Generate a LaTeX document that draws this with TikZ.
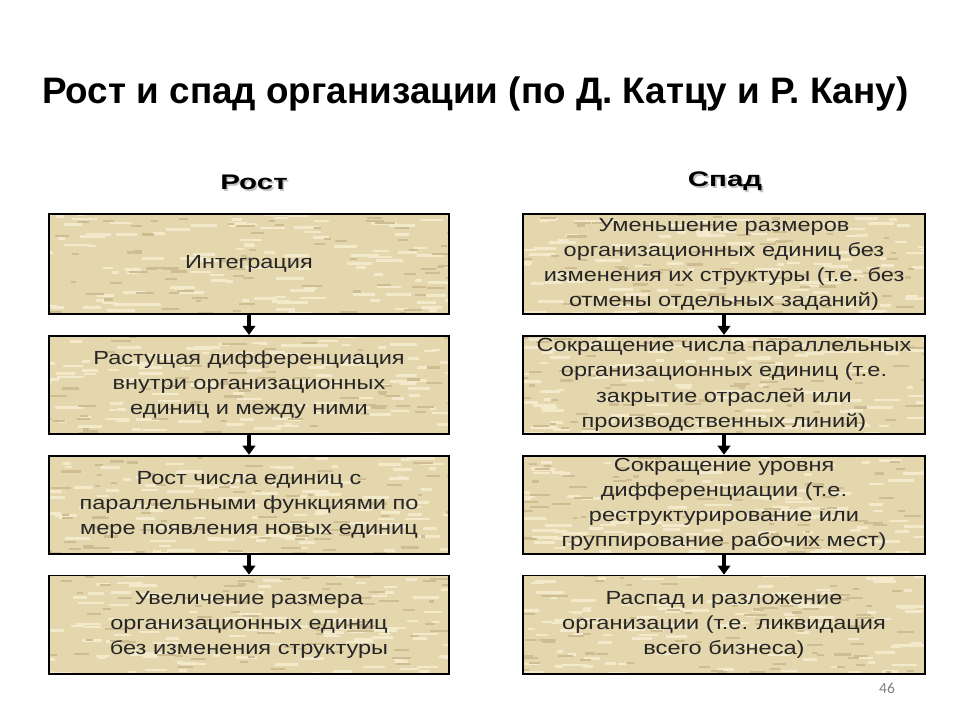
\documentclass[tikz,border=0pt]{standalone}
\usepackage{fontspec}
\setmainfont{Liberation Sans}
\newfontfamily\boxfont[FakeStretch=1.24]{Liberation Sans}
\newfontfamily\headfont[FakeStretch=1.4]{Liberation Sans}
\newfontfamily\numfont{Carlito}
\usetikzlibrary{positioning,arrows.meta}

\definecolor{papyrus}{RGB}{229,215,173}
\definecolor{papyruslight}{RGB}{243,234,203}
\definecolor{papyrusdark}{RGB}{206,189,146}

% тень под заголовками колонок
\newcommand{\shadowed}[1]{\makebox[0pt][l]{\kern1.2pt\raisebox{-1.2pt}{\textcolor{gray!45}{#1}}}#1}

\tikzset{
	stage/.style={draw=black, line width=1.3pt, fill=papyrus,
		minimum width=10cm, minimum height=2.45cm, inner xsep=2pt, inner ysep=0pt,
		align=center, text=black!85,
		font=\boxfont\fontsize{13.5}{17.8}\selectfont,
		path picture={
			% волокна «папируса»
			\foreach \k in {1,...,120}{
				\pgfmathsetmacro{\sx}{5.3*rand}
				\pgfmathsetmacro{\sy}{1.3*rand}
				\pgfmathsetmacro{\sl}{0.15+0.55*rnd}
				\draw[papyruslight, line width=1.9pt]
				([shift={(\sx cm,\sy cm)}]path picture bounding box.center) -- ++(\sl cm,0pt);
			}
			\foreach \k in {1,...,80}{
				\pgfmathsetmacro{\sx}{5.3*rand}
				\pgfmathsetmacro{\sy}{1.3*rand}
				\pgfmathsetmacro{\sl}{0.1+0.4*rnd}
				\draw[papyrusdark, line width=1.5pt]
				([shift={(\sx cm,\sy cm)}]path picture bounding box.center) -- ++(\sl cm,0pt);
			}
		}},
	heading/.style={font=\headfont\bfseries\fontsize{15}{18}\selectfont, anchor=base},
	flow/.style={-{Triangle[length=6.5pt,width=9pt]}, line width=2.6pt},
}

\begin{document}
\begin{tikzpicture}[x=0.025cm, y=-0.025cm, node distance=0.5cm]
	\pgfmathsetseed{17}
	\fill[white] (0,0) rectangle (960,720);
	\useasboundingbox (0,0) rectangle (960,720);
	
	% --- заголовок ---
	\node[anchor=base west, inner sep=0pt, font=\bfseries\fontsize{26.2}{30}\selectfont]
	(title) at (42,104) {Рост и спад организации (по Д. Катцу и Р. Кану)};
	
	% --- колонка «Рост» ---
	\node[heading] (rost) at (254,190) {\shadowed{Рост}};
	\node[stage, minimum height=2.5cm] (g1) at (249,264) {Интеграция};
	\node[stage, below=of g1] (g2) {Растущая дифференциация\\внутри организационных\\единиц и между ними};
	\node[stage, below=of g2] (g3) {Рост числа единиц с\\параллельными функциями по\\мере появления новых единиц};
	\node[stage, below=of g3] (g4) {Увеличение размера\\организационных единиц\\без изменения структуры};
	
	% --- колонка «Спад» ---
	\node[heading] (spad) at (725,187) {\shadowed{Спад}};
	\node[stage, minimum width=10.05cm, minimum height=2.5cm] (d1) at (724,264)
	{Уменьшение размеров\\организационных единиц без\\изменения их структуры (т.е. без\\отмены отдельных заданий)};
	\node[stage, minimum width=10.05cm, below=of d1] (d2) {Сокращение числа параллельных\\организационных единиц (т.е.\\закрытие отраслей или\\производственных линий)};
	\node[stage, minimum width=10.05cm, below=of d2] (d3) {Сокращение уровня\\дифференциации (т.е.\\реструктурирование или\\группирование рабочих мест)};
	\node[stage, minimum width=10.05cm, below=of d3] (d4) {Распад и разложение\\организации (т.е. ликвидация\\всего бизнеса)};
	
	% стрелки
	\foreach \a/\b in {g1/g2,g2/g3,g3/g4,d1/d2,d2/d3,d3/d4}
	\draw[flow] (\a) -- (\b);
	
	% номер слайда
	\node[font=\numfont\fontsize{11}{13}\selectfont, text=gray] (page) at (887,688) {46};
\end{tikzpicture}
\end{document}
